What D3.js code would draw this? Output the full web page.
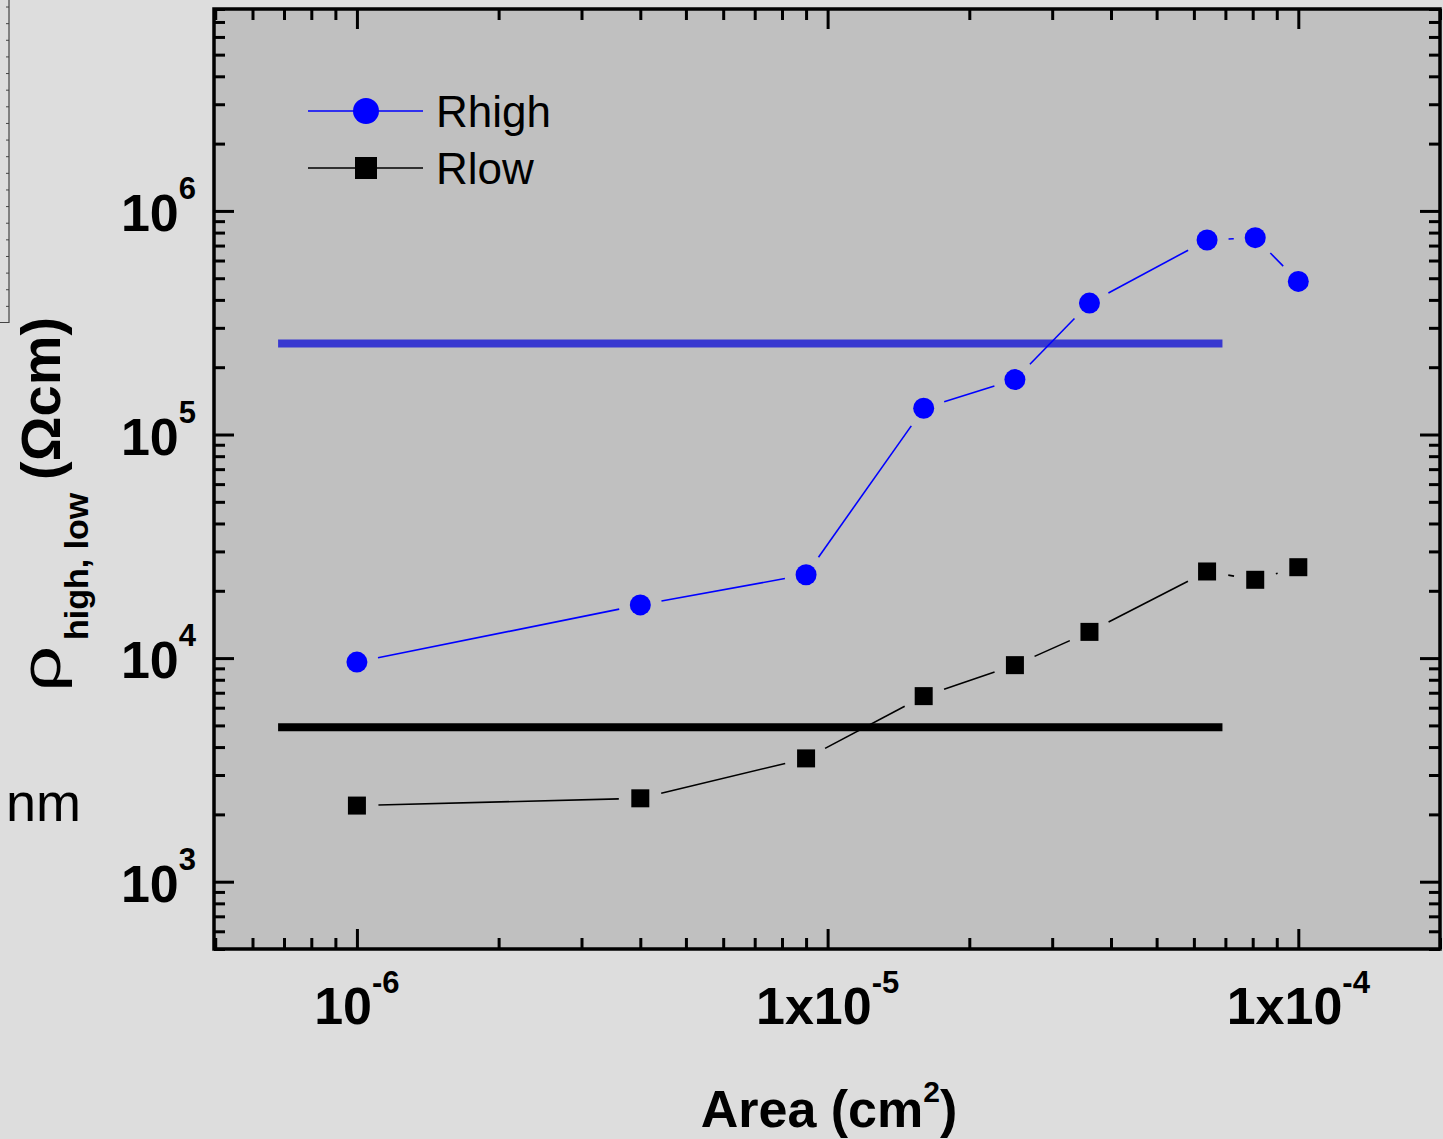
<!DOCTYPE html>
<html>
<head>
<meta charset="utf-8">
<script src="https://cdn.jsdelivr.net/npm/d3@7"></script>
<style>
  html, body { margin: 0; padding: 0; background: #dddddd; }
  svg { display: block; }
  text { font-family: "Liberation Sans", Arial, sans-serif; }
</style>
</head>
<body>
<svg id="chart" width="1443" height="1139"></svg>
<script>
// Device area (cm^2): square pads 10, 20, 30, 40, 50, 60, 80, 90, 100 µm
const areas = [1e-6, 4e-6, 9e-6, 1.6e-5, 2.5e-5, 3.6e-5, 6.4e-5, 8.1e-5, 1e-4];
// Resistivity in the high and low resistance states (Ω·cm)
const rHigh = [9600, 17300, 23600, 131000, 176000, 387000, 741000, 759000, 484000];
const rLow  = [2190, 2360, 3560, 6760, 9300, 13100, 24400, 22400, 25500];
// Reference levels drawn as thick horizontal bars, and their area extent
const refHigh = 2.55e5;
const refLow = 4.9e3;
const refSpan = [6.8e-7, 6.9e-5];
// Axis ticks and labels (base, exponent)
const xTickValues = [1e-6, 1e-5, 1e-4];
const xTickLabels = [["10", "-6"], ["1x10", "-5"], ["1x10", "-4"]];
const yTickValues = [1e3, 1e4, 1e5, 1e6];
const yTickLabels = [["10", "3"], ["10", "4"], ["10", "5"], ["10", "6"]];
const seriesNames = ["Rhigh", "Rlow"];

const svg = d3.select("#chart");
const plot = { left: 214, right: 1440, top: 9, bottom: 949 };

const x = d3.scaleLog().domain([4.97e-7, 2.0e-4]).range([plot.left, plot.right]);
const y = d3.scaleLog().domain([500, 8e6]).range([plot.bottom, plot.top]);

// page background
svg.append("rect").attr("width", 1443).attr("height", 1139).attr("fill", "#dddddd");

// fragment of a neighbouring panel at the left edge
const side = d3.scaleLinear().domain([0, 20]).range([322.5, -10.1]);
const sideG = svg.append("g").attr("transform", "translate(9,0)");
sideG.call(d3.axisLeft(side).tickValues(d3.range(1, 20)).tickSize(3).tickSizeOuter(0).tickFormat(""));
sideG.selectAll("line, path").attr("stroke", "#444").attr("stroke-width", 1);
sideG.select(".domain").remove();
svg.append("path").attr("d", `M0,${side(0)}H9V0`).attr("fill", "none").attr("stroke", "#444").attr("stroke-width", 1.2);

// plot area
svg.append("rect")
  .attr("x", plot.left).attr("y", plot.top)
  .attr("width", plot.right - plot.left).attr("height", plot.bottom - plot.top)
  .attr("fill", "#c0c0c0");

// minor / major tick values on a log axis
function logTicks(domain) {
  const lo = Math.floor(Math.log10(domain[0])), hi = Math.ceil(Math.log10(domain[1]));
  const major = [], minor = [];
  for (let e = lo; e <= hi; e++) {
    for (let m = 1; m <= 9; m++) {
      const v = m * Math.pow(10, e);
      if (v < domain[0] * 0.9999 || v > domain[1] * 1.0001) continue;
      (m === 1 ? major : minor).push(v);
    }
  }
  return { major, minor };
}
const xt = logTicks(x.domain());
const yt = logTicks(y.domain());
const MAJ = 20, MIN = 11;

function styleAxis(g) {
  g.select(".domain").remove();
  g.selectAll("line").attr("stroke", "#000").attr("stroke-width", 3);
}
// bottom / top
[["axisBottom", plot.bottom], ["axisTop", plot.top]].forEach(([fn, pos]) => {
  svg.append("g").attr("transform", `translate(0,${pos})`)
    .call(d3[fn](x).tickValues(xt.minor).tickSize(-MIN).tickSizeOuter(0).tickFormat("")).call(styleAxis);
  svg.append("g").attr("transform", `translate(0,${pos})`)
    .call(d3[fn](x).tickValues(xt.major).tickSize(-MAJ).tickSizeOuter(0).tickFormat("")).call(styleAxis);
});
// left / right
[["axisLeft", plot.left], ["axisRight", plot.right]].forEach(([fn, pos]) => {
  svg.append("g").attr("transform", `translate(${pos},0)`)
    .call(d3[fn](y).tickValues(yt.minor).tickSize(-MIN).tickSizeOuter(0).tickFormat("")).call(styleAxis);
  svg.append("g").attr("transform", `translate(${pos},0)`)
    .call(d3[fn](y).tickValues(yt.major).tickSize(-MAJ).tickSizeOuter(0).tickFormat("")).call(styleAxis);
});

// frame
svg.append("rect")
  .attr("x", plot.left).attr("y", plot.top)
  .attr("width", plot.right - plot.left).attr("height", plot.bottom - plot.top)
  .attr("fill", "none").attr("stroke", "#000").attr("stroke-width", 3.5);

// tick labels
const xl = svg.append("g").selectAll("text").data(xTickValues).join("text")
  .attr("x", d => x(d)).attr("y", 1024)
  .attr("text-anchor", "middle").attr("font-size", 52).attr("font-weight", "bold");
xl.append("tspan").text((d, i) => xTickLabels[i][0]);
xl.append("tspan").attr("dy", -31).attr("font-size", 31).text((d, i) => xTickLabels[i][1]);

const yl = svg.append("g").selectAll("text").data(yTickValues).join("text")
  .attr("x", 196).attr("y", d => y(d) + 20)
  .attr("text-anchor", "end").attr("font-size", 52).attr("font-weight", "bold");
yl.append("tspan").text((d, i) => yTickLabels[i][0]);
yl.append("tspan").attr("dy", -32).attr("font-size", 31).text((d, i) => yTickLabels[i][1]);

// axis titles
const xTitle = svg.append("text").attr("x", 829).attr("y", 1127)
  .attr("text-anchor", "middle").attr("font-size", 52).attr("font-weight", "bold");
xTitle.append("tspan").text("Area (cm");
xTitle.append("tspan").attr("dy", -25).attr("font-size", 30).text("2");
xTitle.append("tspan").attr("dy", 25).text(")");

// rotated y title: wide rho, subscript, unit
const yTitle = svg.append("g").attr("transform", "translate(60,692) rotate(-90)");
yTitle.append("text").attr("transform", "scale(1.45,1)")
  .attr("x", 0).attr("y", 0).attr("font-size", 56).text("ρ");
yTitle.append("text").attr("x", 52).attr("y", 28)
  .attr("font-size", 34).attr("font-weight", "bold").text("high, low");
yTitle.append("text").attr("x", 212).attr("y", 0)
  .attr("font-size", 56).attr("font-weight", "bold").text("(Ωcm)");

svg.append("text").attr("x", 6).attr("y", 821).attr("font-size", 54).text("nm");

// reference bars
svg.append("line")
  .attr("x1", x(refSpan[0])).attr("x2", x(refSpan[1]))
  .attr("y1", y(refHigh)).attr("y2", y(refHigh))
  .attr("stroke", "#3838d0").attr("stroke-width", 8);
svg.append("line")
  .attr("x1", x(refSpan[0])).attr("x2", x(refSpan[1]))
  .attr("y1", y(refLow)).attr("y2", y(refLow))
  .attr("stroke", "#000").attr("stroke-width", 8);

// connecting lines stop short of each marker
function gapped(pts, gap) {
  const segs = [];
  for (let i = 0; i < pts.length - 1; i++) {
    const [x0, y0] = pts[i], [x1, y1] = pts[i + 1];
    const dx = x1 - x0, dy = y1 - y0, L = Math.hypot(dx, dy);
    if (L <= 2 * gap) continue;
    const ux = dx / L, uy = dy / L;
    segs.push([x0 + ux * gap, y0 + uy * gap, x1 - ux * gap, y1 - uy * gap]);
  }
  return segs;
}
const series = [
  { name: seriesNames[0], values: rHigh, color: "#0000ff", shape: "circle" },
  { name: seriesNames[1], values: rLow, color: "#000000", shape: "square" }
];
series.forEach(s => {
  const pts = areas.map((a, i) => [x(a), y(s.values[i])]);
  svg.append("g").selectAll("line").data(gapped(pts, 21.5)).join("line")
    .attr("x1", d => d[0]).attr("y1", d => d[1]).attr("x2", d => d[2]).attr("y2", d => d[3])
    .attr("stroke", s.color).attr("stroke-width", 1.6);
  const g = svg.append("g");
  if (s.shape === "circle") {
    g.selectAll("circle").data(pts).join("circle")
      .attr("cx", d => d[0]).attr("cy", d => d[1]).attr("r", 10.5).attr("fill", s.color);
  } else {
    g.selectAll("rect").data(pts).join("rect")
      .attr("x", d => d[0] - 9).attr("y", d => d[1] - 9).attr("width", 18).attr("height", 18).attr("fill", s.color);
  }
});

// legend
const legend = svg.append("g");
series.forEach((s, i) => {
  const ly = 111 + i * 57;
  legend.append("line").attr("x1", 308).attr("x2", 423).attr("y1", ly).attr("y2", ly)
    .attr("stroke", s.color).attr("stroke-width", 1.6);
  if (s.shape === "circle") {
    legend.append("circle").attr("cx", 366).attr("cy", ly).attr("r", 13).attr("fill", s.color);
  } else {
    legend.append("rect").attr("x", 355).attr("y", ly - 11).attr("width", 22).attr("height", 22).attr("fill", s.color);
  }
  legend.append("text").attr("x", 436).attr("y", ly + 16).attr("font-size", 44).text(s.name);
});
</script>
</body>
</html>
